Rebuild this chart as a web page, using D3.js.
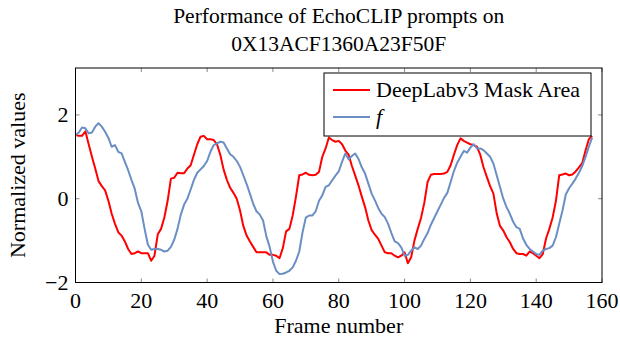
<!DOCTYPE html>
<html>
<head>
<meta charset="utf-8">
<script src="https://cdn.jsdelivr.net/npm/d3@7"></script>
<style>
  body { margin: 0; background: #fff; }
  text { font-family: "Liberation Serif", "Times New Roman", serif; fill: #000; }
</style>
</head>
<body>
<svg width="620" height="338"></svg>
<script>
// values, one per frame
var deeplab = [1.52, 1.50, 1.50, 1.61, 1.30, 1.00, 0.72, 0.42, 0.30, 0.20,
  -0.05, -0.36, -0.60, -0.80, -0.88, -1.02, -1.20, -1.32, -1.30, -1.26,
  -1.30, -1.30, -1.30, -1.48, -1.36, -0.85, -0.72, -0.45, -0.05, 0.48,
  0.50, 0.62, 0.61, 0.61, 0.72, 0.80, 1.05, 1.30, 1.48, 1.50,
  1.42, 1.42, 1.40, 1.30, 1.05, 0.70, 0.45, 0.26, 0.14, 0.00,
  -0.28, -0.65, -0.88, -1.02, -1.15, -1.28, -1.28, -1.28, -1.28, -1.34,
  -1.34, -1.36, -1.42, -1.18, -0.78, -0.72, -0.40, 0.05, 0.56, 0.58,
  0.62, 0.57, 0.56, 0.57, 0.64, 1.00, 1.20, 1.46, 1.40, 1.36,
  1.38, 1.30, 1.15, 1.05, 0.78, 0.55, 0.32, 0.05, -0.20, -0.52,
  -0.75, -0.86, -0.96, -1.12, -1.28, -1.30, -1.30, -1.36, -1.40, -1.36,
  -1.28, -1.54, -1.40, -1.00, -0.72, -0.46, -0.10, 0.40, 0.57, 0.59,
  0.59, 0.59, 0.60, 0.64, 0.80, 1.05, 1.28, 1.44, 1.38, 1.34,
  1.30, 1.28, 1.24, 1.05, 0.75, 0.52, 0.30, 0.12, -0.35, -0.65,
  -0.76, -0.92, -1.04, -1.20, -1.30, -1.32, -1.32, -1.36, -1.26, -1.30,
  -1.36, -1.42, -1.32, -0.95, -0.72, -0.45, -0.05, 0.56, 0.58, 0.60,
  0.56, 0.58, 0.65, 0.75, 0.85, 1.15, 1.42, 1.50];

var fValues = [1.52, 1.58, 1.70, 1.68, 1.56, 1.58, 1.72, 1.80, 1.72, 1.60,
  1.45, 1.24, 1.28, 1.12, 1.08, 0.88, 0.68, 0.45, 0.24, -0.10,
  -0.30, -0.72, -1.10, -1.22, -1.20, -1.20, -1.22, -1.26, -1.24, -1.15,
  -0.98, -0.72, -0.38, -0.14, 0.00, 0.22, 0.45, 0.62, 0.70, 0.78,
  0.90, 1.12, 1.28, 1.32, 1.36, 1.34, 1.20, 1.06, 1.00, 0.90,
  0.76, 0.56, 0.35, 0.12, -0.12, -0.30, -0.38, -0.52, -0.90, -1.15,
  -1.50, -1.72, -1.80, -1.79, -1.76, -1.72, -1.64, -1.48, -1.26, -0.80,
  -0.45, -0.40, -0.40, -0.30, -0.05, 0.08, 0.28, 0.32, 0.44, 0.55,
  0.65, 0.88, 1.08, 0.94, 1.02, 1.08, 0.95, 0.75, 0.60, 0.36,
  0.12, -0.04, -0.22, -0.36, -0.44, -0.60, -0.82, -1.02, -1.06, -1.16,
  -1.36, -1.34, -1.24, -1.16, -1.20, -1.12, -0.96, -0.82, -0.62, -0.46,
  -0.30, -0.14, 0.02, 0.14, 0.40, 0.66, 0.86, 1.00, 1.14, 1.10,
  1.22, 1.30, 1.20, 1.20, 1.16, 1.08, 1.00, 0.84, 0.56, 0.28,
  0.00, -0.20, -0.36, -0.55, -0.68, -0.72, -0.95, -1.10, -1.20, -1.26,
  -1.32, -1.34, -1.24, -1.20, -1.18, -1.12, -0.92, -0.60, -0.28, 0.10,
  0.25, 0.36, 0.48, 0.62, 0.78, 1.00, 1.24, 1.46];

var xTicks = [0, 20, 40, 60, 80, 100, 120, 140, 160];
var yTicks = [-2, 0, 2];
var seriesNames = ["DeepLabv3 Mask Area", "f"];

var svg = d3.select("svg"),
    margin = {top: 68, right: 18, bottom: 55.5, left: 75.5},
    width = +svg.attr("width") - margin.left - margin.right,
    height = +svg.attr("height") - margin.top - margin.bottom,
    g = svg.append("g").attr("transform", "translate(" + margin.left + "," + margin.top + ")");

var x = d3.scaleLinear().domain([0, 160]).range([0, width]),
    y = d3.scaleLinear().domain([-2, 3.12]).range([height, 0]);

var colors = ["#ff0000", "#6b8fc4"];

// ticks (pgfplots style: inside, mirrored)
var tickLen = 4;
g.selectAll(".xtick-b").data(xTicks).join("line")
    .attr("x1", d => x(d)).attr("x2", d => x(d))
    .attr("y1", height).attr("y2", height - tickLen)
    .attr("stroke", "#888").attr("stroke-width", 1);
g.selectAll(".xtick-t").data(xTicks).join("line")
    .attr("x1", d => x(d)).attr("x2", d => x(d))
    .attr("y1", 0).attr("y2", tickLen)
    .attr("stroke", "#888").attr("stroke-width", 1);
g.selectAll(".ytick-l").data(yTicks).join("line")
    .attr("x1", 0).attr("x2", tickLen)
    .attr("y1", d => y(d)).attr("y2", d => y(d))
    .attr("stroke", "#888").attr("stroke-width", 1);
g.selectAll(".ytick-r").data(yTicks).join("line")
    .attr("x1", width).attr("x2", width - tickLen)
    .attr("y1", d => y(d)).attr("y2", d => y(d))
    .attr("stroke", "#888").attr("stroke-width", 1);

// tick labels
g.selectAll(".xlab").data(xTicks).join("text")
    .attr("x", d => x(d)).attr("y", height + 25)
    .attr("text-anchor", "middle")
    .style("font-size", "22px")
    .text(d => d);
g.selectAll(".ylab").data(yTicks).join("text")
    .attr("x", -7).attr("y", d => y(d) + 7)
    .attr("text-anchor", "end")
    .style("font-size", "22px")
    .text(d => d < 0 ? "\u2212" + Math.abs(d) : d);

// lines
var line = d3.line()
    .x((d, i) => x(i))
    .y(d => y(d));

[deeplab, fValues].forEach(function(vals, k) {
  g.append("path")
      .datum(vals)
      .attr("d", line)
      .attr("fill", "none")
      .attr("stroke", colors[k])
      .attr("stroke-width", 2)
      .attr("stroke-linejoin", "round");
});

// frame
g.append("rect")
    .attr("width", width).attr("height", height)
    .attr("fill", "none")
    .attr("stroke", "#000").attr("stroke-width", 1);

// legend
var legend = svg.append("g").attr("transform", "translate(324,73)");
legend.append("rect")
    .attr("width", 267).attr("height", 63)
    .attr("fill", "#fff")
    .attr("stroke", "#000").attr("stroke-width", 1);
seriesNames.forEach(function(name, k) {
  var ly = 17 + k * 27;
  legend.append("line")
      .attr("x1", 9).attr("x2", 46)
      .attr("y1", ly).attr("y2", ly)
      .attr("stroke", colors[k]).attr("stroke-width", 2);
  legend.append("text")
      .attr("x", 52).attr("y", ly + 7)
      .style("font-size", "22px")
      .style("font-style", k === 1 ? "italic" : "normal")
      .text(name);
});

// title
svg.append("text")
    .attr("x", margin.left + width / 2).attr("y", 23)
    .attr("text-anchor", "middle")
    .style("font-size", "21.5px")
    .text("Performance of EchoCLIP prompts on");
svg.append("text")
    .attr("x", margin.left + width / 2).attr("y", 51)
    .attr("text-anchor", "middle")
    .style("font-size", "21.5px")
    .text("0X13ACF1360A23F50F");

// axis labels
svg.append("text")
    .attr("x", margin.left + width / 2).attr("y", 333)
    .attr("text-anchor", "middle")
    .style("font-size", "22px")
    .text("Frame number");
svg.append("text")
    .attr("transform", "rotate(-90)")
    .attr("x", -(margin.top + height / 2)).attr("y", 25)
    .attr("text-anchor", "middle")
    .style("font-size", "22px")
    .text("Normalized values");
</script>
</body>
</html>
